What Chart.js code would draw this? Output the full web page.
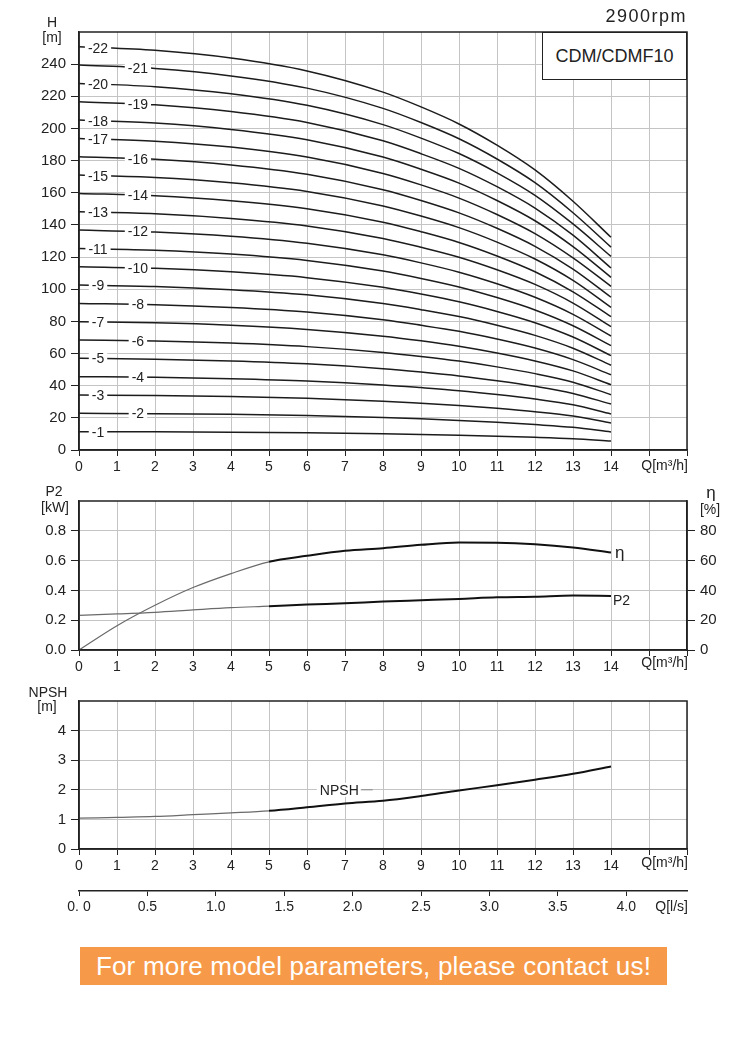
<!DOCTYPE html>
<html>
<head>
<meta charset="utf-8">
<script src="https://cdn.jsdelivr.net/npm/chart.js@4.4.1/dist/chart.umd.min.js"></script>
<style>
  body { margin: 0; background: #fff; }
  #page { position: relative; width: 749px; height: 1041px; font-family: "Liberation Sans", Arial, sans-serif; color: #222; }
  #page canvas { position: absolute; left: 0; }
  #rpm { position: absolute; right: 62px; top: 6px; font-size: 18px; letter-spacing: 1.5px; line-height: 20px; }
  #model { position: absolute; left: 542px; top: 32px; width: 145px; height: 48px; box-sizing: border-box;
           border: 1.5px solid #222; background: #fff; font-size: 18px; display: flex;
           align-items: center; justify-content: center; z-index: 2; }
  #banner { position: absolute; left: 80px; top: 947px; width: 587px; height: 38px; background: #f69a4a;
            color: #fff; font-family: "Liberation Sans", Arial, sans-serif;
            font-size: 26px; line-height: 38px; text-align: center; letter-spacing: 0.2px; }
</style>
</head>
<body>
<div id="page">
  <canvas id="headChart" width="749" height="480" style="top:0"></canvas>
  <canvas id="powerChart" width="749" height="200" style="top:480px"></canvas>
  <canvas id="npshChart" width="749" height="240" style="top:680px"></canvas>
  <div id="rpm">2900rpm</div>
  <div id="model">CDM/CDMF10</div>
  <div id="banner">For more model parameters, please contact us!</div>
</div>
<script>
// ---- data ----
const qTicks = [0, 1, 2, 3, 4, 5, 6, 7, 8, 9, 10, 11, 12, 13, 14, 15, 16];
const hTicks = [0, 20, 40, 60, 80, 100, 120, 140, 160, 180, 200, 220, 240];
const p2Ticks = [0, 0.2, 0.4, 0.6, 0.8];
const effTicks = [0, 20, 40, 60, 80];
const npshTicks = [0, 1, 2, 3, 4];
const lsTicks = [0, 0.5, 1, 1.5, 2, 2.5, 3, 3.5, 4];
const lsTickLabels = ['0. 0', '0.5', '1.0', '1.5', '2.0', '2.5', '3.0', '3.5', '4.0'];

// H curves, one row per stage count (1..22), at these flows
const qHead = [0, 2, 4, 6, 8, 9, 10, 11, 12, 13, 14];
const stages = [1, 2, 3, 4, 5, 6, 7, 8, 9, 10, 11, 12, 13, 14, 15, 16, 17, 18, 19, 20, 21, 22];
const headRows = [
  [11.4, 11.3, 11.1, 10.7, 10.1, 9.7, 9.2, 8.6, 7.9, 7.0, 5.6],
  [22.8, 22.6, 22.2, 21.4, 20.2, 19.4, 18.4, 17.2, 15.8, 14.1, 11.2],
  [34.2, 33.9, 33.2, 32.2, 30.4, 29.1, 27.7, 25.9, 23.8, 21.1, 16.8],
  [45.6, 45.2, 44.3, 42.9, 40.5, 38.8, 36.9, 34.5, 31.7, 28.1, 22.4],
  [57.0, 56.5, 55.4, 53.6, 50.6, 48.5, 46.1, 43.1, 39.6, 35.2, 28.6],
  [68.4, 67.8, 66.5, 64.3, 60.7, 58.2, 55.3, 51.7, 47.5, 42.2, 34.4],
  [79.8, 79.1, 77.6, 75.0, 70.8, 67.9, 64.5, 60.3, 55.4, 49.2, 40.6],
  [91.2, 90.4, 88.6, 85.8, 81.0, 77.6, 73.8, 69.0, 63.4, 56.2, 46.8],
  [102.6, 101.7, 99.7, 96.5, 91.1, 87.3, 83.0, 77.6, 71.3, 63.3, 52.7],
  [114.0, 113.0, 110.8, 107.2, 101.2, 97.0, 92.2, 86.2, 79.2, 70.3, 58.7],
  [125.4, 124.3, 121.9, 117.9, 111.3, 106.7, 101.4, 94.8, 87.1, 77.3, 64.9],
  [136.8, 135.6, 133.0, 128.6, 121.4, 116.4, 110.6, 103.4, 95.0, 84.4, 70.9],
  [148.2, 146.9, 144.0, 139.4, 131.6, 126.1, 119.9, 112.1, 103.0, 91.4, 76.7],
  [159.6, 158.2, 155.1, 150.1, 141.7, 135.8, 129.1, 120.7, 110.9, 98.4, 82.9],
  [171.0, 169.5, 166.2, 160.8, 151.8, 145.5, 138.3, 129.3, 118.8, 105.5, 88.7],
  [182.4, 180.8, 177.3, 171.5, 161.9, 155.2, 147.5, 137.9, 126.7, 112.5, 95.0],
  [193.8, 192.1, 188.4, 182.2, 172.0, 164.9, 156.7, 146.5, 134.6, 119.5, 101.8],
  [205.2, 203.4, 199.4, 193.0, 182.2, 174.6, 166.0, 155.2, 142.6, 126.5, 107.4],
  [216.6, 214.7, 210.5, 203.7, 192.3, 184.3, 175.2, 163.8, 150.5, 133.6, 113.2],
  [228.0, 226.0, 221.6, 214.4, 202.4, 194.0, 184.4, 172.4, 158.4, 140.6, 120.4],
  [239.4, 237.3, 232.7, 225.1, 212.5, 203.7, 193.6, 181.0, 166.3, 147.6, 126.2],
  [250.8, 248.6, 243.8, 235.8, 222.6, 213.4, 202.8, 189.6, 174.2, 154.7, 132.3]
];
// stage labels that sit further right on their curve
const rightLabelStages = [2, 4, 6, 8, 10, 12, 14, 16, 19, 21];

const qCurve = [0, 1, 2, 3, 4, 5, 6, 7, 8, 9, 10, 11, 12, 13, 14];
const effPct = [0, 16.3, 30, 41.9, 51.3, 59.2, 63.2, 66.6, 68.3, 70.6, 72.1, 72, 71, 68.8, 65.4];
const p2kW = [0.233, 0.242, 0.253, 0.269, 0.284, 0.294, 0.305, 0.314, 0.325, 0.334, 0.343, 0.354, 0.358, 0.365, 0.363];
const npshM = [1.04, 1.07, 1.10, 1.16, 1.22, 1.29, 1.41, 1.54, 1.63, 1.79, 1.98, 2.15, 2.34, 2.54, 2.79];

// ---- styling ----
const FONT = '"Liberation Sans", Arial, sans-serif';
const INK = '#222';
const GRID = '#c4c4c4';
const THIN = '#6a6a6a';

const pts = (xs, ys) => xs.map((x, i) => ({ x: x, y: ys[i] }));

// curves are drawn thin below Q=5 and heavy from there on
const splitSegment = {
  borderColor: c => c.p0.parsed.x < 5 ? THIN : '#111',
  borderWidth: c => c.p0.parsed.x < 5 ? 1.2 : 2
};

function qAxis(height) {
  return {
    type: 'linear', min: 0, max: 16,
    afterBuildTicks: s => { s.ticks = qTicks.map(v => ({ value: v })); },
    afterFit: s => { s.height = height; },
    grid: { color: GRID, tickColor: INK, tickLength: 6 },
    border: { color: INK, width: 1.5 },
    ticks: { color: INK, font: { family: FONT, size: 14 }, padding: 3, maxRotation: 0, autoSkip: false,
             callback: v => v <= 14 ? String(v) : '' }
  };
}

function valueAxis(min, max, tickList, fmt, side) {
  return {
    type: 'linear', position: side, min: min, max: max,
    afterBuildTicks: s => { s.ticks = tickList.map(v => ({ value: v })); },
    afterFit: s => { s.width = side === 'left' ? 79 : 62; },
    grid: { color: GRID, tickColor: INK, tickLength: 8, drawOnChartArea: side === 'left' },
    border: { color: INK, width: 1.5 },
    ticks: { color: INK, font: { family: FONT, size: 15 }, padding: 5, callback: fmt }
  };
}

// black frame round the plot area
const frame = {
  id: 'frame',
  afterDraw(chart) {
    const { ctx, chartArea: a } = chart;
    ctx.save();
    ctx.strokeStyle = INK;
    ctx.lineWidth = 1.5;
    ctx.strokeRect(a.left, a.top, a.right - a.left, a.bottom - a.top);
    ctx.restore();
  }
};

// free text: axis names and units
const notes = {
  id: 'notes',
  afterDraw(chart, args, opts) {
    const ctx = chart.ctx;
    ctx.save();
    ctx.fillStyle = INK;
    ctx.textBaseline = 'middle';
    (opts.items || []).forEach(n => {
      ctx.font = (n.size || 14) + 'px ' + FONT;
      ctx.textAlign = n.align || 'center';
      ctx.fillText(n.text, n.x, n.y);
    });
    ctx.restore();
  }
};

const stageLabels = {
  id: 'stageLabels',
  afterDatasetsDraw(chart) {
    const { ctx, scales: { x } } = chart;
    ctx.save();
    ctx.font = '14px ' + FONT;
    ctx.textAlign = 'center';
    ctx.textBaseline = 'middle';
    chart.data.datasets.forEach((ds, i) => {
      const n = stages[i];
      const p = chart.getDatasetMeta(i).data;
      const px = x.getPixelForValue(rightLabelStages.includes(n) ? 1.55 : 0.5);
      const t = (px - p[0].x) / (p[1].x - p[0].x);
      const py = p[0].y + t * (p[1].y - p[0].y);
      const txt = '-' + n;
      const w = ctx.measureText(txt).width + 6;
      ctx.fillStyle = '#fff';
      ctx.fillRect(px - w / 2, py - 6, w, 12);
      ctx.fillStyle = INK;
      ctx.fillText(txt, px, py + 1);
    });
    ctx.restore();
  }
};

const base = {
  responsive: false, animation: false, devicePixelRatio: 1,
  plugins: { legend: { display: false }, tooltip: { enabled: false } },
  elements: { point: { radius: 0 }, line: { cubicInterpolationMode: 'monotone' } }
};

// ---- H-Q ----
new Chart(document.getElementById('headChart'), {
  type: 'line',
  data: {
    datasets: headRows.map(row => ({
      data: pts(qHead, row), borderColor: '#1c1c1c', borderWidth: 1.5
    }))
  },
  options: {
    ...base,
    layout: { padding: { left: 0, top: 32, right: 62, bottom: 0 } },
    scales: {
      x: qAxis(30),
      y: valueAxis(0, 260, hTicks, v => String(v), 'left')
    },
    plugins: {
      ...base.plugins,
      notes: { items: [
        { text: 'H', x: 52, y: 23 },
        { text: '[m]', x: 52, y: 38 },
        { text: 'Q[m\u00b3/h]', x: 688, y: 466, align: 'right' }
      ] }
    }
  },
  plugins: [stageLabels, frame, notes]
});

// ---- P2 / efficiency ----
const endLabels = {
  id: 'endLabels',
  afterDatasetsDraw(chart) {
    const ctx = chart.ctx;
    ctx.save();
    ctx.fillStyle = INK;
    ctx.textBaseline = 'middle';
    ctx.textAlign = 'left';
    const eta = chart.getDatasetMeta(0).data.at(-1);
    const p2 = chart.getDatasetMeta(1).data.at(-1);
    ctx.font = '17px ' + FONT;
    ctx.fillText('\u03b7', eta.x + 4, eta.y + 1);
    ctx.font = '14px ' + FONT;
    ctx.fillText('P2', p2.x + 2, p2.y + 5);
    ctx.restore();
  }
};

new Chart(document.getElementById('powerChart'), {
  type: 'line',
  data: {
    datasets: [
      { data: pts(qCurve, effPct), yAxisID: 'y2', segment: splitSegment },
      { data: pts(qCurve, p2kW), yAxisID: 'y', segment: splitSegment }
    ]
  },
  options: {
    ...base,
    layout: { padding: { left: 0, top: 21, right: 0, bottom: 0 } },
    scales: {
      x: qAxis(30),
      y: valueAxis(0, 1, p2Ticks, v => v.toFixed(1), 'left'),
      y2: valueAxis(0, 100, effTicks, v => String(v), 'right')
    },
    plugins: {
      ...base.plugins,
      notes: { items: [
        { text: 'P2', x: 54, y: 12 },
        { text: '[kW]', x: 55, y: 28 },
        { text: '\u03b7', x: 711, y: 13, size: 17 },
        { text: '[%]', x: 710, y: 30 },
        { text: 'Q[m\u00b3/h]', x: 688, y: 183, align: 'right' }
      ] }
    }
  },
  plugins: [endLabels, frame, notes]
});

// ---- NPSH ----
const npshLabel = {
  id: 'npshLabel',
  afterDatasetsDraw(chart) {
    const { ctx, scales: { x, y } } = chart;
    const px = x.getPixelForValue(6.85);
    const py = y.getPixelForValue(2.0);
    ctx.save();
    ctx.font = '14px ' + FONT;
    ctx.textAlign = 'center';
    ctx.textBaseline = 'middle';
    const w = ctx.measureText('NPSH').width;
    ctx.fillStyle = '#fff';
    ctx.fillRect(px - w / 2 - 3, py - 7, w + 6, 14);
    ctx.fillStyle = INK;
    ctx.fillText('NPSH', px, py + 1);
    ctx.strokeStyle = '#888';
    ctx.lineWidth = 1;
    ctx.beginPath();
    ctx.moveTo(px + w / 2 + 2, py);
    ctx.lineTo(px + w / 2 + 14, py);
    ctx.stroke();
    ctx.restore();
  }
};

const lsAxis = {
  type: 'linear', position: 'bottom', weight: 1, min: 0, max: 16 / 3.6,
  afterBuildTicks: s => { s.ticks = lsTicks.map(v => ({ value: v })); },
  afterFit: s => { s.height = 29; },
  grid: { drawOnChartArea: false, tickColor: INK, tickLength: 5 },
  border: { color: INK, width: 1.5 },
  ticks: { color: INK, font: { family: FONT, size: 14 }, padding: 3, maxRotation: 0, autoSkip: false,
           callback: (v, i) => lsTickLabels[i] }
};

new Chart(document.getElementById('npshChart'), {
  type: 'line',
  data: {
    datasets: [ { data: pts(qCurve, npshM), segment: splitSegment } ]
  },
  options: {
    ...base,
    layout: { padding: { left: 0, top: 21, right: 62, bottom: 0 } },
    scales: {
      x: qAxis(42),
      xs: lsAxis,
      y: valueAxis(0, 5, npshTicks, v => String(v), 'left')
    },
    plugins: {
      ...base.plugins,
      notes: { items: [
        { text: 'NPSH', x: 48, y: 13 },
        { text: '[m]', x: 47, y: 27 },
        { text: 'Q[m\u00b3/h]', x: 688, y: 183, align: 'right' },
        { text: 'Q[l/s]', x: 688, y: 227, align: 'right' }
      ] }
    }
  },
  plugins: [npshLabel, frame, notes]
});
</script>
</body>
</html>
